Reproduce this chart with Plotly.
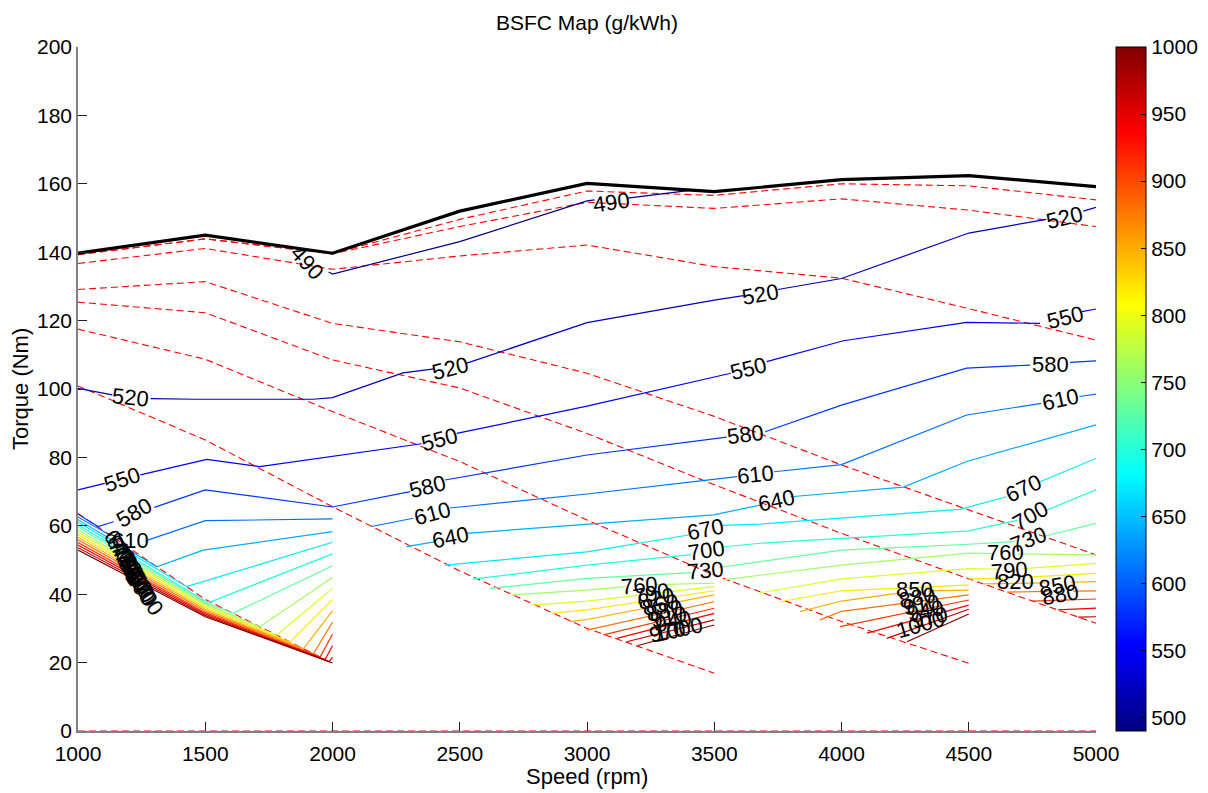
import plotly.graph_objects as go

# ---- engine operating grid -------------------------------------------------
speed_nodes = [1000, 1500, 2000, 2500, 3000, 3500, 4000, 4500, 5000]

# wide-open-throttle torque curve (Nm)
max_torque = [139.7, 145.0, 139.7, 152.0, 160.1, 157.7, 161.2, 162.4, 159.2]

# mesh rows of the map (Nm at each speed node, dashed red)
row_a1 = [139.3, 143.9, 139.6, 149.6, 157.9, 156.6, 160.0, 159.4, 155.3]
row_a2 = [139.3, 143.9, 139.5, 147.5, 154.6, 152.8, 155.6, 152.3, 147.5]
row_b = [136.7, 141.1, 135.0, 138.9, 142.1, 135.8, 132.4, 123.5, 114.3]
row_c = [129.1, 131.4, 119.2, 113.8, 104.6, 92.0, 77.8, 64.6, 51.5]
row_d = [125.4, 122.3, 108.5, 100.3, 87.0, 72.0, 57.8, 44.5, 31.5]
row_e = [117.5, 108.7, 93.4, 78.8, 61.7, 45.6, 32.0, 19.8]
row_f = [100.9, 85.1, 65.6, 46.8, 30.0, 16.9]
row_g = [63.6, 38.5, 19.8]
row_zero = [0, 0, 0, 0, 0, 0, 0, 0, 0]

# ---- BSFC iso-lines (g/kWh): segments of (speed rpm, torque Nm) ----------
iso_490 = [
    [(1985, 134.2), (2000, 133.6), (2500, 143.1), (3000, 155.0), (3030, 155.3)],
    [(3160, 155.8), (3365, 157.7), (3420, 158.2)],
]
iso_520 = [
    [(1000, 100.2), (1135, 98.3)],
    [(1285, 97.2), (1466, 97.0), (1924, 97.0), (2000, 97.5), (2277, 104.7), (2400, 105.9)],
    [(2525, 107.5), (3000, 119.4), (3500, 126.0), (3615, 127.3)],
    [(3750, 129.1), (4000, 132.3), (4500, 145.6), (4805, 149.6)],
    [(4950, 152.0), (5000, 153.1)],
]
iso_550 = [
    [(1000, 70.5), (1105, 72.4)],
    [(1245, 74.9), (1506, 79.4), (1714, 77.3), (2000, 80.3), (2350, 84.0)],
    [(2488, 87.0), (3000, 95.0), (3565, 104.6)],
    [(3706, 108.0), (4008, 114.1), (4492, 119.5), (4780, 119.2)],
    [(4945, 122.6), (5000, 123.4)],
]
iso_580 = [
    [(1000, 63.4), (1079, 59.8), (1140, 61.2)],
    [(1300, 65.4), (1500, 70.5), (2000, 65.5), (2305, 70.0)],
    [(2442, 73.4), (3000, 80.7), (3549, 85.9)],
    [(3700, 87.5), (4000, 95.3), (4492, 106.1), (4741, 107.0)],
    [(4898, 107.8), (5000, 108.2)],
]
iso_610 = [
    [(1000, 62.6), (1130, 57.1)],
    [(1265, 55.6), (1500, 61.5), (2000, 62.0)],
    [(2153, 59.8), (2317, 62.2)],
    [(2462, 65.2), (3000, 69.3), (3590, 74.4)],
    [(3735, 75.8), (4000, 77.9), (4492, 92.4), (4785, 95.8)],
    [(4935, 97.8), (5000, 98.5)],
]
iso_640 = [
    [(1000, 61.8), (1310, 48.0), (1492, 52.9), (2000, 58.3)],
    [(2291, 53.9), (2400, 55.3)],
    [(2527, 57.8), (3000, 60.5), (3497, 63.2), (3690, 66.2)],
    [(3800, 68.5), (4243, 71.3), (4492, 78.8), (5000, 89.5)],
]
iso_670 = [
    [(1000, 61.1), (1427, 42.2), (2000, 55.2)],
    [(2442, 48.5), (3000, 52.4), (3400, 57.3)],
    [(3530, 60.1), (3680, 60.5), (4465, 64.8), (4649, 68.5)],
    [(4780, 72.9), (5000, 79.7)],
]
iso_700 = [
    [(1000, 60.3), (1500, 38.0), (1519, 37.7), (2000, 51.8)],
    [(2553, 44.4), (3000, 48.5), (3410, 51.6)],
    [(3530, 53.8), (3680, 54.9), (4500, 58.5), (4690, 61.6)],
    [(4800, 64.4), (5000, 70.5)],
]
iso_730 = [
    [(1000, 59.6), (1500, 37.6), (1610, 34.4), (2000, 48.3)],
    [(2619, 41.7), (3000, 44.6), (3410, 46.3)],
    [(3520, 47.8), (3680, 49.5), (4000, 52.9), (4500, 54.6), (4680, 55.4)],
    [(4790, 56.8), (5000, 60.7)],
]
iso_760 = [
    [(1000, 58.8), (1500, 37.1), (1715, 30.5), (2000, 44.9)],
    [(2704, 39.8), (3000, 41.2), (3150, 42.2)],
    [(3265, 42.8), (3500, 43.2)],
    [(3535, 44.2), (4000, 48.5), (4500, 52.0), (4595, 51.9)],
    [(4692, 51.8), (5000, 51.5)],
]
iso_790 = [
    [(1000, 58.1), (1500, 36.6), (1780, 28.0), (2000, 41.7)],
    [(2783, 36.8), (3000, 38.0), (3500, 42.2)],
    [(3680, 40.4), (4000, 44.5), (4500, 47.5), (4615, 47.3)],
    [(4712, 47.5), (5000, 49.0)],
]
iso_820 = [
    [(1000, 57.4), (1500, 36.1), (1833, 26.0), (2000, 38.5)],
    [(2861, 34.4), (3000, 35.4), (3500, 41.0)],
    [(3758, 37.8), (4000, 41.0), (4500, 42.7)],
    [(4500, 44.5), (4635, 44.6)],
    [(4735, 45.0), (5000, 46.1)],
]
iso_850 = [
    [(1000, 56.6), (1500, 35.6), (1886, 24.1), (2000, 35.1)],
    [(2933, 32.0), (3000, 32.6), (3500, 39.8)],
    [(3837, 34.9), (4000, 38.0), (4230, 40.4)],
    [(4340, 41.0), (4500, 41.2)],
    [(4560, 43.0), (4800, 43.3)],
    [(4900, 43.5), (5000, 43.7)],
]
iso_880 = [
    [(1000, 55.9), (1500, 35.1), (1925, 22.6), (2000, 31.8)],
    [(2999, 29.5), (3500, 37.8)],
    [(3916, 32.5), (4000, 35.0), (4500, 39.8)],
    [(4650, 40.6), (4810, 40.8)],
    [(4910, 40.9), (5000, 41.0)],
]
iso_910 = [
    [(1000, 55.1), (1500, 34.6), (1951, 21.6), (2000, 28.3)],
    [(3064, 28.1), (3500, 35.9)],
    [(3994, 30.5), (4500, 38.3)],
    [(4750, 38.0), (5000, 38.6)],
]
iso_940 = [
    [(1000, 54.4), (1500, 34.2), (1971, 20.9), (2000, 24.9)],
    [(3117, 27.1), (3500, 34.4)],
    [(4100, 28.6), (4500, 36.8)],
    [(4850, 35.4), (5000, 35.9)],
]
iso_970 = [
    [(1000, 53.6), (1500, 33.8), (1987, 20.3), (2000, 21.5)],
    [(3156, 26.1), (3500, 32.5)],
    [(4178, 27.1), (4500, 35.6)],
    [(4930, 33.3), (5000, 33.4)],
]
iso_1000 = [
    [(1000, 52.9), (1500, 33.4), (2000, 19.9)],
    [(3200, 25.0), (3500, 31.0)],
    [(4257, 26.1), (4500, 34.2)],
]

levels = [490, 520, 550, 580, 610, 640, 670, 700, 730, 760, 790, 820,
          850, 880, 910, 940, 970, 1000]
iso_lines = [iso_490, iso_520, iso_550, iso_580, iso_610, iso_640, iso_670,
             iso_700, iso_730, iso_760, iso_790, iso_820, iso_850, iso_880,
             iso_910, iso_940, iso_970, iso_1000]

# inline labels: (level, speed, torque, rotation in degrees, clockwise)
iso_labels = [
    (490, 1900, 137.0, 48), (490, 3097, 154.6, -8),
    (520, 1208, 97.6, 6), (520, 2462, 106.0, -14), (520, 3682, 127.6, -10), (520, 4878, 150.2, -14),
    (550, 1175, 73.4, -18), (550, 2420, 85.3, -15), (550, 3636, 106.0, -14), (550, 4880, 120.8, -14),
    (580, 1222, 63.8, -30), (580, 2375, 71.6, -14), (580, 3623, 86.6, -7), (580, 4822, 107.3, 0),
    (610, 1205, 55.8, 0), (610, 2392, 63.6, -15), (610, 3664, 75.0, -6), (610, 4860, 97.0, -12),
    (640, 2462, 56.6, -12), (640, 3745, 67.4, -12),
    (670, 3464, 58.9, -12), (670, 4714, 71.0, -25),
    (700, 3468, 52.7, -8), (700, 4744, 63.0, -30),
    (730, 3464, 47.0, -5), (730, 4736, 56.0, -20),
    (760, 3208, 42.6, -5), (760, 4643, 52.2, 0),
    (790, 3255, 40.2, -12), (790, 4662, 46.8, -5),
    (820, 3272, 38.6, -12), (820, 4683, 43.6, 0),
    (850, 3290, 37.0, -12), (850, 4285, 41.4, 0), (850, 4848, 42.6, -10),
    (880, 3305, 35.3, -12), (880, 4300, 38.9, -10), (880, 4862, 39.9, -10),
    (910, 3322, 33.6, -12), (910, 4315, 37.0, -10),
    (940, 3338, 31.9, -12), (940, 4330, 35.2, -10),
    (970, 3318, 29.0, -12), (970, 4345, 33.3, -12),
    (1000, 3360, 29.8, -12), (1000, 4312, 31.0, -16),
    (640, 1165, 53.6, 55), (670, 1173, 52.5, 55), (700, 1181, 51.4, 55),
    (730, 1189, 50.3, 55), (760, 1197, 49.2, 55), (790, 1205, 48.1, 55),
    (820, 1213, 47.0, 55), (850, 1221, 45.9, 55), (880, 1229, 44.8, 55),
    (910, 1237, 43.7, 55), (940, 1245, 42.6, 55), (970, 1253, 41.5, 55),
    (1000, 1263, 40.3, 55),
]

cmin, cmax = 490, 1000
colorbar_ticks = [500, 550, 600, 650, 700, 750, 800, 850, 900, 950, 1000]


def jet(t):
    t = min(max(t, 0.0), 1.0)
    r = min(max(1.5 - abs(4 * t - 3), 0.0), 1.0)
    g = min(max(1.5 - abs(4 * t - 2), 0.0), 1.0)
    b = min(max(1.5 - abs(4 * t - 1), 0.0), 1.0)
    return "rgb(%d,%d,%d)" % (round(r * 255), round(g * 255), round(b * 255))


def flatten(segments):
    xs, ys = [], []
    for seg in segments:
        for s, t in seg:
            xs.append(s)
            ys.append(t)
        xs.append(None)
        ys.append(None)
    return xs, ys


fig = go.Figure()

# dashed mesh rows
for row in [row_zero, row_g, row_f, row_e, row_d, row_c, row_b, row_a2, row_a1]:
    fig.add_trace(go.Scatter(
        x=speed_nodes[:len(row)], y=row, mode="lines",
        line=dict(color="rgb(255,0,0)", width=1.1, dash="7px,4px"),
        hoverinfo="skip"))

# BSFC iso-lines
for lvl, segs in zip(levels, iso_lines):
    xs, ys = flatten(segs)
    fig.add_trace(go.Scatter(
        x=xs, y=ys, mode="lines", connectgaps=False,
        line=dict(color=jet((lvl - cmin) / (cmax - cmin)), width=1.2),
        name=str(lvl)))

# max torque curve
fig.add_trace(go.Scatter(
    x=speed_nodes, y=max_torque, mode="lines",
    line=dict(color="black", width=3.2), name="Max torque"))

# colour scale legend
jet_scale = [[i / 64, jet(i / 64)] for i in range(65)]
fig.add_trace(go.Scatter(
    x=[3000, 3000], y=[-20, -20], mode="markers",
    marker=dict(color=[cmin, cmax], colorscale=jet_scale, cmin=cmin, cmax=cmax,
                opacity=0, size=1, showscale=True,
                colorbar=dict(x=(1116 - 78) / 1018, xanchor="left", xpad=0,
                              y=0.5, yanchor="middle", len=1, lenmode="fraction",
                              ypad=0, thickness=30, outlinewidth=1,
                              outlinecolor="black",
                              tickvals=colorbar_ticks, ticks="inside",
                              ticklen=5, tickcolor="black",
                              tickfont=dict(size=21, color="black"))),
    hoverinfo="skip"))

font_family = "Liberation Sans, Arial, Helvetica, sans-serif"
annotations = []
for lvl, s, t, ang in iso_labels:
    annotations.append(dict(
        x=s, y=t, xref="x", yref="y", text=str(lvl), showarrow=False,
        textangle=ang, xanchor="center", yanchor="middle",
        font=dict(size=22, color="black", family=font_family)))

annotations += [
    dict(x=0.5, y=1 + 25 / 684, xref="paper", yref="paper", showarrow=False,
         text="BSFC Map (g/kWh)", yanchor="middle",
         font=dict(size=21, color="black", family=font_family)),
    dict(x=0.5, y=-46 / 684, xref="paper", yref="paper", showarrow=False,
         text="Speed (rpm)", yanchor="middle",
         font=dict(size=22, color="black", family=font_family)),
    dict(x=-58 / 1018, y=0.5, xref="paper", yref="paper", showarrow=False,
         text="Torque (Nm)", textangle=-90, xanchor="center",
         font=dict(size=22, color="black", family=font_family)),
]

fig.update_layout(
    width=1208, height=793,
    margin=dict(l=78, r=112, t=47, b=62, autoexpand=False),
    paper_bgcolor="white", plot_bgcolor="white",
    showlegend=False,
    font=dict(family=font_family, size=21, color="black"),
    annotations=annotations,
    xaxis=dict(range=[1000, 5000], tickvals=speed_nodes, ticks="inside",
               ticklen=9, tickcolor="#222", showgrid=False, zeroline=False,
               showline=True, linecolor="#808080", linewidth=1.5,
               ticklabelstandoff=3,
               tickfont=dict(size=21, color="black")),
    yaxis=dict(range=[0, 200], tickvals=list(range(0, 201, 20)), ticks="inside",
               ticklen=9, tickcolor="#222", showgrid=False, zeroline=False,
               showline=True, linecolor="#808080", linewidth=1.5,
               tickfont=dict(size=21, color="black")),
)

fig.write_html("out.html")
